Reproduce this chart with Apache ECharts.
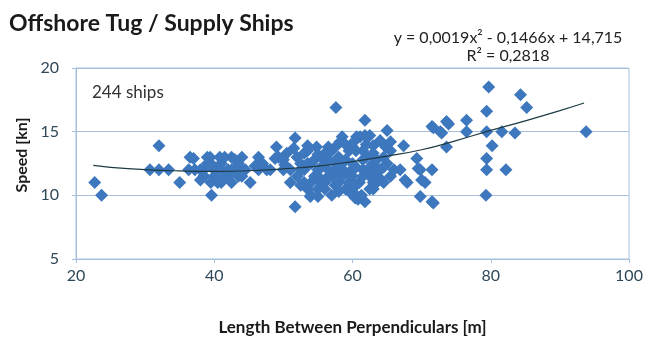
<!DOCTYPE html>
<html>
<head>
<meta charset="utf-8">
<script src="https://cdn.jsdelivr.net/npm/echarts@6/dist/echarts.min.js"></script>
<style>
html,body{margin:0;padding:0;background:#fff;}
#chart{width:646px;height:343px;}
</style>
</head>
<body>
<div id="chart"></div>
<script>
// Length between perpendiculars [m]
var lbp = [
  22.7, 23.7, 32.0, 30.7, 32.0, 33.4, 35.0, 36.5, 36.3, 37.0,
  37.2, 38.5, 39.0, 39.4, 39.6, 40.8, 42.5, 40.0, 41.0, 42.0,
  43.0, 44.0, 40.0, 41.5, 39.5, 40.5, 42.0, 43.5, 41.0, 38.0,
  44.5, 45.2, 46.4, 45.9, 47.6, 46.4, 48.1, 49.0, 48.8, 49.3,
  50.2, 51.0, 51.7, 51.5, 51.7, 52.0, 52.5, 53.0, 52.0, 53.0,
  53.5, 54.0, 53.9, 54.5, 54.8, 53.5, 54.0, 52.5, 55.0, 55.0,
  55.0, 53.0, 55.5, 56.0, 56.5, 56.0, 57.0, 57.5, 58.0, 58.0,
  58.5, 59.0, 59.0, 59.7, 60.0, 60.0, 60.5, 60.6, 61.1, 61.8,
  58.2, 58.5, 57.6, 61.8, 60.4, 61.8, 60.8, 61.3, 61.0, 61.5,
  62.0, 62.5, 63.0, 63.0, 64.0, 63.5, 64.2, 64.0, 64.5, 65.0,
  65.0, 65.5, 66.0, 62.0, 57.0, 56.5, 59.5, 56.0, 57.0, 62.5,
  64.5, 63.0, 67.4, 66.9, 67.9, 69.3, 69.8, 71.5, 70.5, 71.5,
  69.5, 67.6, 70.0, 71.7, 69.8, 71.5, 71.7, 72.9, 73.9, 76.5,
  76.5, 73.6, 79.7, 84.3, 85.2, 79.4, 79.4, 81.6, 83.5, 93.8,
  80.2, 79.4, 79.4, 82.2, 79.3, 72.7, 73.6, 47.0, 50.0, 56.5,
  58.5, 60.0, 63.5, 65.5, 44.0, 38.5, 55.5, 57.5, 59.0, 62.0,
  38.5, 39.5, 40.5, 41.5, 42.5, 43.5, 44.0, 41.0, 42.5, 39.0,
  43.0, 38.0, 52.5, 53.5, 54.5, 55.5, 56.5, 57.5, 58.5, 59.5,
  60.5, 61.5, 62.5, 63.5, 64.5, 55.5, 56.5, 57.5, 58.5, 59.5,
  60.5, 61.5, 62.5, 63.5, 54.0, 55.0, 58.0, 60.0, 63.0, 56.0,
  57.5, 59.0, 60.0, 61.5, 63.0, 64.8, 65.5, 62.5, 60.2, 53.5,
  55.0, 50.5, 51.0, 50.0
];
// Speed [kn]
var speed = [
  11.0, 10.0, 13.9, 12.0, 12.0, 12.0, 11.0, 13.0, 12.0, 12.9,
  12.0, 12.0, 12.5, 13.0, 10.0, 13.0, 13.0, 12.0, 12.0, 12.0,
  12.0, 12.0, 11.5, 11.5, 11.0, 11.0, 11.5, 12.5, 12.5, 12.0,
  12.0, 11.0, 13.0, 12.3, 12.0, 12.0, 12.0, 13.8, 12.9, 13.0,
  12.4, 12.0, 14.5, 13.7, 9.1, 13.0, 12.5, 12.0, 11.5, 11.0,
  10.5, 10.0, 9.9, 11.5, 13.8, 13.5, 12.5, 10.8, 12.0, 11.5,
  9.9, 13.3, 13.0, 12.5, 12.0, 11.0, 11.5, 12.5, 13.0, 11.0,
  12.0, 12.8, 10.5, 10.2, 11.5, 12.5, 13.5, 14.6, 14.6, 14.7,
  14.2, 14.6, 16.9, 15.9, 9.8, 9.5, 9.7, 10.0, 11.0, 12.0,
  13.0, 11.5, 12.5, 13.9, 14.3, 11.0, 11.2, 12.0, 13.0, 15.1,
  12.5, 11.5, 12.0, 14.0, 13.5, 13.8, 13.5, 10.5, 10.0, 10.5,
  11.0, 11.0, 13.9, 12.0, 11.0, 12.9, 9.9, 12.0, 11.0, 9.5,
  12.1, 11.2, 11.2, 9.4, 12.0, 15.4, 15.3, 14.9, 15.6, 15.9,
  15.0, 13.8, 18.5, 17.9, 16.9, 16.6, 15.0, 15.0, 14.9, 15.0,
  13.9, 12.9, 12.0, 12.0, 10.0, 15.0, 15.8, 12.5, 12.8, 12.8,
  11.5, 10.8, 12.0, 13.5, 11.5, 11.5, 10.8, 12.0, 11.8, 11.8,
  11.5, 12.5, 12.0, 13.0, 12.0, 11.5, 13.0, 11.0, 11.0, 13.0,
  12.8, 11.2, 12.0, 12.5, 12.8, 12.2, 12.8, 11.8, 12.5, 11.8,
  12.2, 12.8, 12.2, 12.8, 12.2, 11.0, 11.5, 10.8, 11.5, 11.0,
  10.8, 11.5, 11.8, 11.8, 11.0, 10.5, 10.3, 10.3, 10.5, 13.3,
  13.8, 14.0, 13.8, 13.5, 13.3, 13.8, 14.2, 14.7, 14.2, 13.9,
  13.2, 13.3, 11.0, 12.0
];
// Trendline (polynomial fit drawn by the source chart)
var trendX = [22.5, 25, 30, 35, 40, 45, 50, 55, 60, 65, 70, 75, 80, 85, 90, 93.5];
var trendY = [12.35, 12.2, 12.02, 11.92, 11.88, 11.93, 12.08, 12.3, 12.65, 13.08, 13.58, 14.3, 15.1, 15.85, 16.65, 17.25];

var xTicks = [20, 40, 60, 80, 100];
var yTicks = [5, 10, 15, 20];

var titleText = 'Offshore Tug / Supply Ships';
var eqText = 'y = 0,0019x\u00B2 - 0,1466x + 14,715';
var r2Text = 'R\u00B2 = 0,2818';
var noteText = '244 ships';
var yName = 'Speed [kn]';
var xName = 'Length Between Perpendiculars [m]';

var pts = lbp.map(function (v, i) { return [v, speed[i]]; });
var trend = trendX.map(function (v, i) { return [v, trendY[i]]; });

var chart = echarts.init(document.getElementById('chart'), null, {renderer: 'canvas'});
var axisColor = '#a6c0de';
var labelColor = '#2f4858';
var font = 'Lato, "Open Sans", sans-serif';
chart.setOption({
  animation: false,
  backgroundColor: '#ffffff',
  grid: {left: 76, right: 17, top: 68, bottom: 84, show: true, borderColor: axisColor, borderWidth: 1},
  title: {
    text: titleText, left: 4, top: 7,
    textStyle: {fontFamily: font, fontWeight: 'bold', fontSize: 23, color: '#1a1a1a'}
  },
  graphic: [
    {type: 'text', x: 508, y: 38, style: {text: eqText, fontFamily: font, fontSize: 16, fill: '#222', textAlign: 'center', textVerticalAlign: 'middle'}},
    {type: 'text', x: 508, y: 56, style: {text: r2Text, fontFamily: font, fontSize: 16, fill: '#222', textAlign: 'center', textVerticalAlign: 'middle'}},
    {type: 'text', left: 92, top: 84, style: {text: noteText, fontFamily: font, fontSize: 17, fill: '#333'}},
    {type: 'text', x: 22, y: 155, rotation: Math.PI / 2, style: {text: yName, fontFamily: font, fontWeight: 'bold', fontSize: 16, fill: '#1a1a1a', textAlign: 'center', textVerticalAlign: 'middle'}}
  ],
  xAxis: {
    type: 'value', min: 20, max: 100, interval: 20,
    name: xName, nameLocation: 'middle', nameGap: 60,
    nameTextStyle: {fontFamily: font, fontWeight: 'bold', fontSize: 17, color: '#1a1a1a'},
    axisLine: {show: true, lineStyle: {color: axisColor}},
    axisTick: {show: true, length: 4, lineStyle: {color: axisColor}},
    axisLabel: {fontFamily: font, fontSize: 16, color: labelColor, margin: 9},
    splitLine: {show: false}
  },
  yAxis: {
    type: 'value', min: 5, max: 20, interval: 5,
    axisLine: {show: true, lineStyle: {color: axisColor}},
    axisTick: {show: true, length: 4, lineStyle: {color: axisColor}},
    axisLabel: {fontFamily: font, fontSize: 16, color: labelColor, margin: 17},
    splitLine: {show: true, lineStyle: {color: axisColor, width: 1}}
  },
  series: [
    {
      type: 'scatter', data: pts, symbol: 'diamond', symbolSize: 13,
      itemStyle: {color: '#3d77be', opacity: 1}
    },
    {
      type: 'line', data: trend, smooth: true, showSymbol: false, symbol: 'none',
      lineStyle: {color: '#1e3a44', width: 1.2}, z: 5
    }
  ]
});
</script>
</body>
</html>
